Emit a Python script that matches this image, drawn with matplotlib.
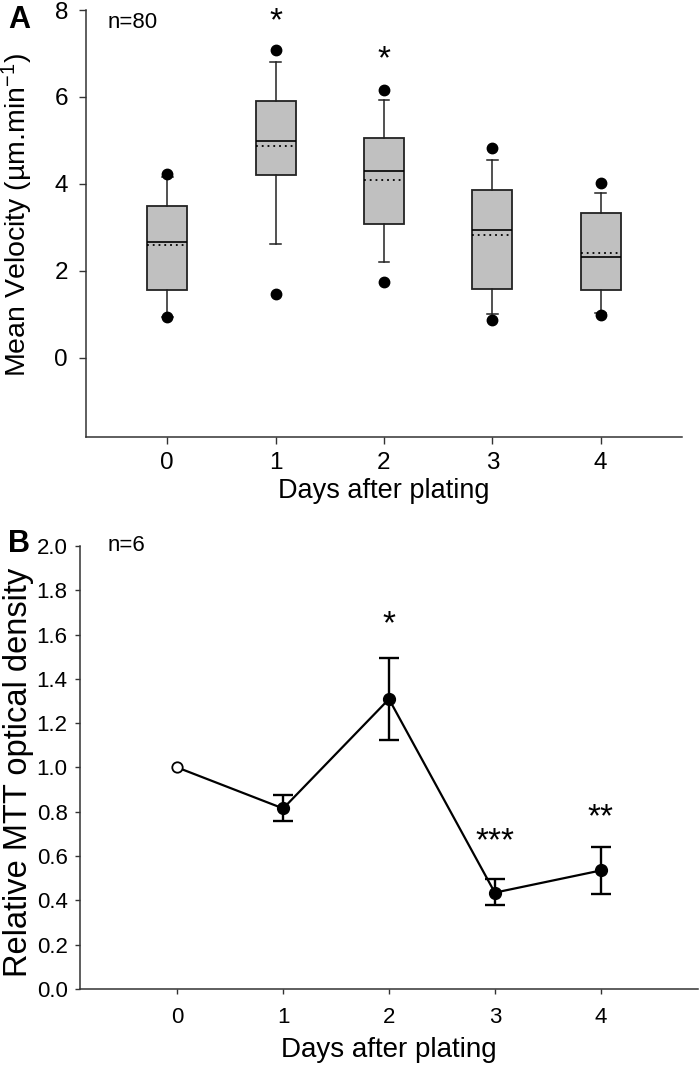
import matplotlib

matplotlib.use("Agg")

import matplotlib.pyplot as plt
from matplotlib.ticker import FormatStrFormatter


plt.rcParams["font.family"] = ["Liberation Sans", "DejaVu Sans"]
plt.rcParams["mathtext.fontset"] = "custom"
plt.rcParams["mathtext.rm"] = "Liberation Sans"
plt.rcParams["mathtext.it"] = "Liberation Sans:italic"

# Panel A: box plot stats of mean velocity per day
DAYS = [0, 1, 2, 3, 4]
BOX_Q1 = [1.57, 4.20, 3.09, 1.59, 1.57]
BOX_MEDIAN = [2.66, 4.99, 4.29, 2.94, 2.33]
BOX_MEAN = [2.60, 4.88, 4.09, 2.83, 2.41]
BOX_Q3 = [3.50, 5.91, 5.06, 3.86, 3.34]
WHISKER_LOW = [0.94, 2.62, 2.20, 1.00, 1.03]
WHISKER_HIGH = [4.15, 6.81, 5.92, 4.55, 3.80]
OUTLIER_LOW = [0.93, 1.48, 1.75, 0.87, 0.98]
OUTLIER_HIGH = [4.24, 7.08, 6.16, 4.83, 4.02]
A_STARS = {1: (7.72, "*"), 2: (6.86, "*")}

# Panel B: relative MTT optical density
MTT_MEAN = [1.00, 0.815, 1.309, 0.435, 0.535]
MTT_ERR_LOW = [0.0, 0.057, 0.186, 0.057, 0.105]
MTT_ERR_HIGH = [0.0, 0.061, 0.186, 0.060, 0.104]
B_STARS = {2: (1.645, "*"), 3: (0.665, "***"), 4: (0.775, "**")}

BOX_FACE = "#c0c0c0"
EDGE = "#222222"

fig = plt.figure(figsize=(6.99, 10.67), dpi=100)
ax_a = fig.add_axes([0.123, 0.5904, 0.8527, 0.4002])
ax_b = fig.add_axes([0.1144, 0.0731, 0.8842, 0.4152])

# ---- Panel A ----
stats = []
for i in range(len(DAYS)):
    stats.append(
        {
            "med": BOX_MEDIAN[i],
            "q1": BOX_Q1[i],
            "q3": BOX_Q3[i],
            "whislo": WHISKER_LOW[i],
            "whishi": WHISKER_HIGH[i],
            "mean": BOX_MEAN[i],
            "fliers": [OUTLIER_LOW[i], OUTLIER_HIGH[i]],
        }
    )

ax_a.bxp(
    stats,
    positions=DAYS,
    widths=0.37,
    capwidths=0.1,
    patch_artist=True,
    showmeans=True,
    meanline=True,
    boxprops=dict(facecolor=BOX_FACE, edgecolor=EDGE, linewidth=1.3),
    medianprops=dict(color="black", linewidth=1.2),
    meanprops=dict(color="black", linestyle=(0, (1, 2.2)), linewidth=1.3),
    whiskerprops=dict(color=EDGE, linewidth=1.1),
    capprops=dict(color=EDGE, linewidth=1.1),
    flierprops=dict(marker="o", markerfacecolor="black", markeredgecolor="black", markersize=7.5),
)

ax_a.set_xlim(-0.75, 4.75)
ax_a.set_ylim(-1.82, 8)
ax_a.set_yticks([0, 2, 4, 6, 8])
ax_a.set_xticks(DAYS)
ax_a.set_xticklabels([str(d) for d in DAYS])
ax_a.tick_params(labelsize=17.5, length=5, width=1, color="#333333")
ax_a.tick_params(axis="y", pad=8)
ax_a.tick_params(axis="x", pad=6)
ax_a.set_ylabel("Mean Velocity (µm.min$^{-1}$)", fontsize=20.5)
ax_a.yaxis.set_label_coords(-0.085, 0.52)
ax_a.set_xlabel("Days after plating", fontsize=19.5)
ax_a.xaxis.set_label_coords(0.5, -0.095)
ax_a.text(-0.55, 7.72, "n=80", fontsize=16, va="center", ha="left")
for day, (y, label) in A_STARS.items():
    ax_a.text(day, y, label, fontsize=24, ha="center", va="center")

# ---- Panel B ----
ax_b.plot(DAYS, MTT_MEAN, color="black", linewidth=1.6, zorder=2)
ax_b.errorbar(
    DAYS[1:],
    MTT_MEAN[1:],
    yerr=[MTT_ERR_LOW[1:], MTT_ERR_HIGH[1:]],
    fmt="o",
    color="black",
    markersize=8.5,
    elinewidth=1.7,
    capsize=7,
    capthick=1.7,
    zorder=3,
)
ax_b.plot(
    DAYS[:1], MTT_MEAN[:1], "o", markersize=7.5,
    markerfacecolor="white", markeredgecolor="black", markeredgewidth=1.3, zorder=4,
)

ax_b.set_xlim(-0.92, 4.92)
ax_b.set_ylim(0, 2.0)
ax_b.set_yticks([i / 10 for i in range(0, 21, 2)])
ax_b.yaxis.set_major_formatter(FormatStrFormatter("%.1f"))
ax_b.set_xticks(DAYS)
ax_b.tick_params(labelsize=16, length=3.8, width=1, color="#333333")
ax_b.tick_params(axis="y", pad=5)
ax_b.tick_params(axis="x", pad=9)
ax_b.set_ylabel("Relative MTT optical density", fontsize=23.5)
ax_b.yaxis.set_label_coords(-0.075, 0.49)
ax_b.set_xlabel("Days after plating", fontsize=20)
ax_b.xaxis.set_label_coords(0.5, -0.108)
ax_b.text(-0.66, 2.0, "n=6", fontsize=16, va="center", ha="left")
for day, (y, label) in B_STARS.items():
    ax_b.text(day, y, label, fontsize=24, ha="center", va="center")

for axis in (ax_a, ax_b):
    axis.spines["top"].set_visible(False)
    axis.spines["right"].set_visible(False)
    for side in ("left", "bottom"):
        axis.spines[side].set_color("#333333")
        axis.spines[side].set_linewidth(1.1)

fig.text(0.012, 0.981, "A", fontsize=22, fontweight="bold", va="center", ha="left")
fig.text(0.012, 0.490, "B", fontsize=22, fontweight="bold", va="center", ha="left")

fig.savefig("out.png", dpi=100)
plt.close(fig)
